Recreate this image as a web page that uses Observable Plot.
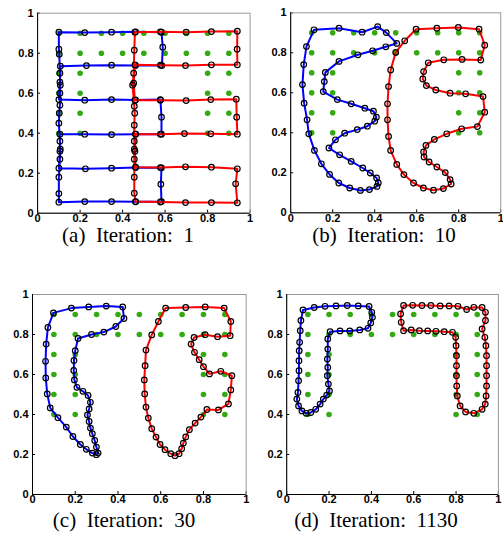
<!DOCTYPE html>
<html><head><meta charset="utf-8">
<script src="https://cdn.jsdelivr.net/npm/d3@7"></script>
<script src="https://cdn.jsdelivr.net/npm/@observablehq/plot@0.6"></script>
<style>
body{margin:0;background:#fff;}
#fig{position:relative;width:503px;height:540px;overflow:hidden;background:#fff;}
.panel{position:absolute;}
.cap{position:absolute;font-family:"Liberation Serif","Times New Roman",serif;font-size:21px;line-height:15px;white-space:pre;color:#000;transform:translateX(-50%);}
</style></head><body><div id="fig"></div>
<script>
// target (green) points
const targetX = [0.1,0.2,0.3,0.4,0.5,0.6,0.7,0.8,0.9, 0.1,0.2,0.3,0.4,0.5,0.6,0.7,0.8,0.9,
                 0.1,0.2,0.8,0.9, 0.1,0.2,0.8,0.9, 0.1,0.2,0.8,0.9, 0.1,0.2,0.8,0.9];
const targetY = [0.9,0.9,0.9,0.9,0.9,0.9,0.9,0.9,0.9, 0.8,0.8,0.8,0.8,0.8,0.8,0.8,0.8,0.8,
                 0.7,0.7,0.7,0.7, 0.6,0.6,0.6,0.6, 0.5,0.5,0.5,0.5, 0.4,0.4,0.4,0.4];

const tickValues = [0,0.2,0.4,0.6,0.8,1];
const tickLabels = ["0","0.2","0.4","0.6","0.8","1"];
const captions = ["(a)  Iteration:  1","(b)  Iteration:  10","(c)  Iteration:  30","(d)  Iteration:  1130"];

// Iteration 1
const blue1 = [[0.100,0.905],[0.222,0.903],[0.348,0.905],[0.461,0.907],[0.583,0.905],[0.589,0.83],[0.585,0.738],[0.461,0.738],[0.348,0.740],[0.230,0.738],[0.107,0.735],[0.105,0.655],[0.100,0.568],[0.222,0.565],[0.348,0.568],[0.461,0.566],[0.578,0.568],[0.583,0.48],[0.583,0.395],[0.461,0.395],[0.348,0.393],[0.222,0.395],[0.105,0.395],[0.105,0.31],[0.100,0.225],[0.225,0.222],[0.348,0.225],[0.461,0.228],[0.583,0.227],[0.580,0.145],[0.583,0.058],[0.461,0.057],[0.348,0.058],[0.222,0.058],[0.100,0.055],[0.100,0.098],[0.100,0.180],[0.105,0.270],[0.107,0.320],[0.105,0.360],[0.100,0.450],[0.102,0.50],[0.105,0.540],[0.105,0.600],[0.107,0.640],[0.105,0.700],[0.102,0.795],[0.100,0.820]];
const red1 = [[0.458,0.905],[0.578,0.907],[0.699,0.905],[0.818,0.908],[0.940,0.910],[0.939,0.82],[0.940,0.742],[0.818,0.742],[0.696,0.738],[0.578,0.740],[0.458,0.742],[0.452,0.650],[0.458,0.565],[0.578,0.565],[0.699,0.563],[0.815,0.568],[0.935,0.570],[0.937,0.48],[0.940,0.395],[0.815,0.397],[0.691,0.398],[0.578,0.395],[0.461,0.395],[0.458,0.31],[0.461,0.230],[0.578,0.228],[0.696,0.232],[0.818,0.230],[0.940,0.222],[0.932,0.147],[0.940,0.052],[0.818,0.053],[0.696,0.053],[0.578,0.056],[0.461,0.058],[0.455,0.10],[0.455,0.18],[0.455,0.27],[0.455,0.32],[0.455,0.36],[0.455,0.44],[0.457,0.5],[0.455,0.535],[0.447,0.64],[0.452,0.70],[0.455,0.815]];

// Iteration 10
const blue10 = [[0.111,0.915],[0.230,0.923],[0.340,0.903],[0.414,0.931],[0.455,0.901],[0.505,0.847],[0.453,0.830],[0.390,0.810],[0.320,0.790],[0.230,0.757],[0.165,0.702],[0.160,0.656],[0.155,0.606],[0.222,0.566],[0.288,0.545],[0.353,0.523],[0.394,0.508],[0.408,0.478],[0.400,0.458],[0.365,0.433],[0.317,0.416],[0.257,0.398],[0.213,0.365],[0.182,0.324],[0.233,0.290],[0.288,0.257],[0.343,0.224],[0.379,0.199],[0.409,0.174],[0.417,0.149],[0.411,0.132],[0.375,0.116],[0.332,0.112],[0.281,0.124],[0.229,0.149],[0.185,0.192],[0.146,0.245],[0.113,0.312],[0.086,0.395],[0.078,0.465],[0.064,0.548],[0.056,0.641],[0.062,0.741],[0.075,0.831]];
const red10 = [[0.597,0.918],[0.696,0.923],[0.798,0.927],[0.897,0.918],[0.924,0.838],[0.905,0.764],[0.816,0.767],[0.729,0.765],[0.655,0.750],[0.633,0.706],[0.629,0.669],[0.646,0.636],[0.691,0.614],[0.759,0.598],[0.833,0.595],[0.916,0.581],[0.924,0.503],[0.889,0.431],[0.814,0.420],[0.743,0.395],[0.684,0.367],[0.644,0.337],[0.633,0.304],[0.635,0.279],[0.659,0.254],[0.696,0.229],[0.736,0.201],[0.759,0.166],[0.764,0.144],[0.727,0.121],[0.680,0.113],[0.632,0.124],[0.585,0.149],[0.539,0.191],[0.505,0.242],[0.476,0.312],[0.466,0.382],[0.461,0.465],[0.461,0.545],[0.466,0.631],[0.476,0.714],[0.500,0.802],[0.543,0.860]];

// Iteration 30
const blue30 = [[0.098,0.908],[0.182,0.932],[0.263,0.938],[0.345,0.942],[0.422,0.938],[0.428,0.880],[0.390,0.840],[0.334,0.812],[0.276,0.800],[0.213,0.780],[0.200,0.719],[0.194,0.670],[0.193,0.620],[0.196,0.573],[0.208,0.536],[0.236,0.516],[0.260,0.495],[0.271,0.461],[0.265,0.428],[0.257,0.398],[0.265,0.365],[0.271,0.332],[0.280,0.304],[0.291,0.270],[0.299,0.237],[0.307,0.207],[0.299,0.199],[0.280,0.207],[0.252,0.226],[0.224,0.250],[0.189,0.290],[0.158,0.337],[0.119,0.384],[0.083,0.433],[0.069,0.503],[0.062,0.583],[0.061,0.666],[0.064,0.752],[0.072,0.835]];
const red30 = [[0.623,0.932],[0.717,0.935],[0.808,0.938],[0.897,0.932],[0.928,0.865],[0.925,0.794],[0.866,0.789],[0.808,0.799],[0.756,0.785],[0.742,0.752],[0.758,0.711],[0.780,0.674],[0.800,0.639],[0.828,0.603],[0.881,0.616],[0.933,0.594],[0.928,0.523],[0.917,0.453],[0.870,0.423],[0.816,0.425],[0.788,0.387],[0.761,0.357],[0.734,0.324],[0.717,0.288],[0.706,0.257],[0.698,0.229],[0.686,0.204],[0.667,0.194],[0.647,0.204],[0.620,0.224],[0.597,0.250],[0.578,0.287],[0.558,0.329],[0.542,0.382],[0.531,0.437],[0.525,0.503],[0.523,0.573],[0.527,0.644],[0.531,0.722],[0.558,0.798],[0.589,0.865]];

// Iteration 1130
const blue1130 = [[0.077,0.923],[0.130,0.935],[0.181,0.941],[0.233,0.943],[0.286,0.945],[0.338,0.943],[0.389,0.940],[0.402,0.911],[0.405,0.886],[0.397,0.858],[0.384,0.831],[0.345,0.823],[0.298,0.818],[0.252,0.818],[0.205,0.814],[0.194,0.778],[0.194,0.727],[0.192,0.677],[0.194,0.635],[0.192,0.594],[0.197,0.552],[0.202,0.518],[0.189,0.497],[0.173,0.477],[0.158,0.452],[0.137,0.426],[0.114,0.410],[0.092,0.406],[0.072,0.418],[0.056,0.443],[0.048,0.477],[0.053,0.510],[0.056,0.569],[0.058,0.619],[0.058,0.669],[0.059,0.719],[0.061,0.761],[0.064,0.819],[0.067,0.870]];
const red1130 = [[0.552,0.945],[0.595,0.946],[0.639,0.945],[0.681,0.945],[0.725,0.943],[0.767,0.943],[0.809,0.941],[0.850,0.925],[0.884,0.936],[0.923,0.935],[0.939,0.911],[0.939,0.870],[0.923,0.828],[0.936,0.786],[0.941,0.744],[0.944,0.694],[0.944,0.644],[0.944,0.594],[0.944,0.543],[0.942,0.493],[0.938,0.452],[0.923,0.426],[0.884,0.406],[0.845,0.413],[0.819,0.443],[0.806,0.493],[0.803,0.543],[0.802,0.594],[0.802,0.644],[0.802,0.694],[0.800,0.744],[0.798,0.786],[0.783,0.811],[0.744,0.814],[0.705,0.816],[0.666,0.818],[0.627,0.819],[0.588,0.823],[0.552,0.819],[0.541,0.861],[0.538,0.903]];

const targets = targetX.map((x,i)=>({x, y: targetY[i]}));

const layout = [
  {left:0,   top:0,   w:251, h:230, l:37.1, r:1.4, t:12.7, b:17.3, cx:128, cy:228.4},
  {left:252, top:0,   w:251, h:230, l:38.2, r:2.8, t:12.3, b:17.7, cx:384, cy:228.4},
  {left:0,   top:280, w:250, h:230, l:32,   r:4.3, t:14,   b:16,   cx:124, cy:513.4},
  {left:252, top:280, w:251, h:230, l:34.2, r:5.1, t:14,   b:16,   cx:376, cy:513.4}
];
const curves = [[blue1,red1],[blue10,red10],[blue30,red30],[blue1130,red1130]];

const fig = document.getElementById("fig");
const fmt = d => tickLabels[tickValues.indexOf(d)];
curves.forEach(([blue, red], i) => {
  const m = layout[i];
  const chart = Plot.plot({
    width: m.w, height: m.h, marginLeft: m.l, marginRight: m.r, marginTop: m.t, marginBottom: m.b,
    x: {domain:[0,1], ticks: tickValues, tickFormat: fmt, tickSize: -3, tickPadding: 4, label: null},
    y: {domain:[0,1], ticks: tickValues, tickFormat: fmt, tickSize: -3, tickPadding: 7, label: null},
    style: {fontFamily: "'Liberation Sans', Arial, sans-serif", fontSize: "11px", fontWeight: "bold", background: "transparent", overflow: "visible", color: "#000"},
    marks: [
      Plot.frame({stroke: "#9a9a9a", strokeWidth: 1}),
      Plot.dot(targets, {x: "x", y: "y", r: 2.8, fill: "#33aa11", stroke: "none"}),
      Plot.line(blue, {x: d => d[0], y: d => d[1], stroke: "#0000ff", strokeWidth: 2, curve: "linear-closed"}),
      Plot.dot(blue, {x: d => d[0], y: d => d[1], r: 2.8, stroke: "#000", strokeWidth: 1.2, fill: "none"}),
      Plot.line(red, {x: d => d[0], y: d => d[1], stroke: "#ff0000", strokeWidth: 2, curve: "linear-closed"}),
      Plot.dot(red, {x: d => d[0], y: d => d[1], r: 2.8, stroke: "#000", strokeWidth: 1.2, fill: "none"}),
      Plot.ruleX([0], {stroke: "#000"}),
      Plot.ruleY([0], {stroke: "#000"})
    ]
  });
  const div = document.createElement("div");
  div.className = "panel";
  div.style.left = m.left + "px";
  div.style.top = m.top + "px";
  div.appendChild(chart);
  fig.appendChild(div);
  const cap = document.createElement("div");
  cap.className = "cap";
  cap.style.left = m.cx + "px";
  cap.style.top = m.cy + "px";
  cap.textContent = captions[i];
  fig.appendChild(cap);
});
</script></body></html>
